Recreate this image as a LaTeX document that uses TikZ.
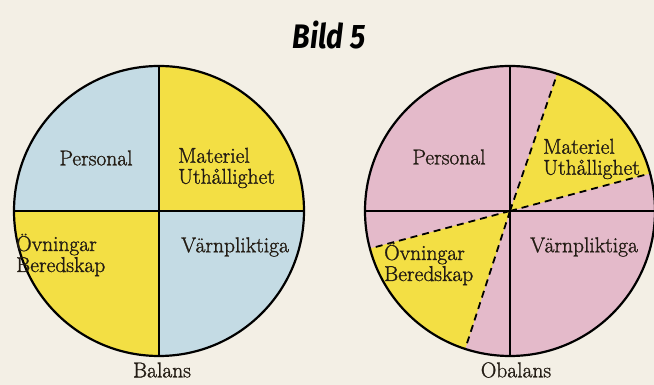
\documentclass[tikz,border=0pt]{standalone}
\usepackage{fontspec}
\usetikzlibrary{calc}
\newfontfamily\titlefont{Fira Sans}
\newfontfamily\lblfont{Latin Modern Roman}[RawFeature={embolden=1.2}]
\begin{document}
\begin{tikzpicture}[x=1pt,y=1pt]
\definecolor{bg}{RGB}{243,239,229}
\definecolor{pblue}{RGB}{196,219,228}
\definecolor{pyellow}{RGB}{243,223,68}
\definecolor{ppink}{RGB}{228,186,202}
\definecolor{ink}{RGB}{35,28,20}
\tikzset{
  lbl/.style={text=ink, font=\lblfont\fontsize{21.5}{21}\selectfont, inner sep=0pt, align=left},
  rim/.style={draw=black, line width=2.2pt},
  cross/.style={draw=black, line width=1.8pt},
  dashline/.style={draw=black, line width=1.8pt, dash pattern=on 7pt off 5pt}
}
\fill[bg] (0,0) rectangle (654,385);
\useasboundingbox (0,0) rectangle (654,385);
\coordinate (L) at (159,174);
\coordinate (R) at (510,174);
\def\rr{145}
% left pie
\fill[pyellow] (L) -- ++(0:\rr) arc[start angle=0, end angle=90, radius=\rr] -- cycle;
\fill[pblue] (L) -- ++(90:\rr) arc[start angle=90, end angle=180, radius=\rr] -- cycle;
\fill[pyellow] (L) -- ++(180:\rr) arc[start angle=180, end angle=270, radius=\rr] -- cycle;
\fill[pblue] (L) -- ++(270:\rr) arc[start angle=270, end angle=360, radius=\rr] -- cycle;
\draw[cross] ($(L)+(-\rr,0)$) -- ($(L)+(\rr,0)$);
\draw[cross] ($(L)+(0,-\rr)$) -- ($(L)+(0,\rr)$);
\draw[rim] (L) circle[radius=\rr];
% right pie
\fill[ppink] (R) circle[radius=\rr];
\fill[pyellow] (R) -- ++(15:\rr) arc[start angle=15, end angle=71, radius=\rr] -- cycle;
\fill[pyellow] (R) -- ++(195:\rr) arc[start angle=195, end angle=252, radius=\rr] -- cycle;
\draw[cross] ($(R)+(-\rr,0)$) -- ($(R)+(\rr,0)$);
\draw[cross] ($(R)+(0,-\rr)$) -- ($(R)+(0,\rr)$);
\draw[dashline] (R) -- ++(15:\rr);
\draw[dashline] (R) -- ++(71:\rr);
\draw[dashline] (R) -- ++(195:\rr);
\draw[dashline] (R) -- ++(252:\rr);
\draw[rim] (R) circle[radius=\rr];
% title
\node[text=black, inner sep=0pt] (title) at (329,350) {\scalebox{0.85}[1]{\titlefont\fontsize{34}{34}\selectfont\bfseries\itshape Bild 5}};
% left labels
\node[lbl] (lp) at (96,227) {Personal};
\node[lbl, anchor=west] (lm) at (178,217) {Materiel\\Uthållighet};
\node[lbl, anchor=west] (lo) at (16,130) {Övningar\\Beredskap};
\node[lbl, anchor=west] (lv) at (181,138) {Värnpliktiga};
\node[lbl] (lb) at (162,15) {Balans};
% right labels
\node[lbl] (rp) at (449,228) {Personal};
\node[lbl, anchor=west] (rm) at (543,226) {Materiel\\Uthållighet};
\node[lbl, anchor=west] (rv) at (530,138) {Värnpliktiga};
\node[lbl, anchor=west] (ro) at (384,121) {Övningar\\Beredskap};
\node[lbl] (rb) at (516,15) {Obalans};
\end{tikzpicture}
\end{document}
